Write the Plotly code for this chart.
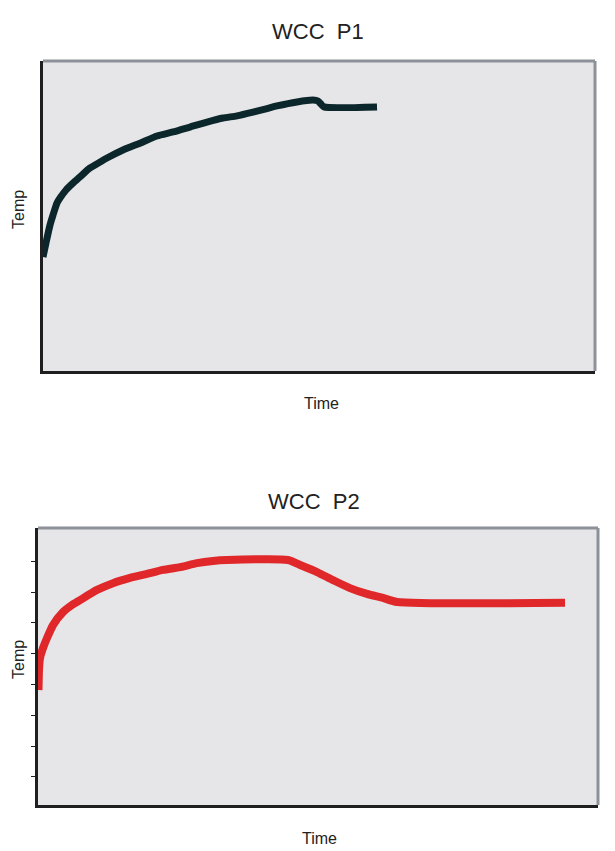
import plotly.graph_objects as go

# ---- data (arbitrary units: time 0-100, temp scale) ----
p1_time = [0, 0.54, 1.27, 1.81, 2.54, 3.08, 4.17, 5.43, 6.70, 8.51, 10.33, 11.59,
           14.49, 17.57, 20.65, 23.55, 26.63, 29.71, 32.61, 35.14, 38.04, 40.22,
           42.39, 46.01, 48.91, 49.82, 50.36, 50.91, 60.51]
p1_temp = [36.8, 41.3, 47.1, 50.3, 54.2, 55.8, 58.4, 60.6, 62.6, 65.5, 67.4, 68.7,
           71.3, 73.5, 75.8, 77.1, 78.7, 80.3, 81.6, 82.3, 83.5, 84.5,
           85.5, 86.8, 87.4, 87.1, 86.1, 85.2, 85.2]

p2_time = [0.09, 0.18, 0.36, 0.89, 1.61, 2.68, 4.46, 6.07, 7.5, 10.54, 13.39, 16.43,
           19.46, 22.32, 25.36, 28.39, 31.25, 33.75, 44.64, 46.79, 49.82, 52.68,
           55.71, 58.75, 61.61, 64.11, 94.11]
p2_temp = [38.2, 44.7, 48.6, 51.8, 55.1, 59.3, 63.5, 65.8, 67.4, 70.7, 72.9, 74.6,
           75.9, 77.2, 78.1, 79.4, 80.1, 80.4, 80.4, 78.8, 76.5, 73.9,
           71.3, 69.4, 68.1, 66.8, 66.5]

titles = ["WCC\u00a0\u00a0P1", "WCC\u00a0\u00a0P2"]
x_label = "Time"
y_label = "Temp"

# page is rendered with an 8px body margin: size the figure to fit and offset
OFF = 8
W, H = 615 - OFF, 851 - OFF

def px_x(p):
    return (p - OFF) / W

def px_y(p):
    return (H - (p - OFF)) / H

fig = go.Figure()
fig.add_trace(go.Scatter(x=p1_time, y=p1_temp, mode="lines",
                         line=dict(color="#0c272b", width=7, shape="spline", smoothing=0.6),
                         xaxis="x", yaxis="y", showlegend=False, hoverinfo="skip"))
fig.add_trace(go.Scatter(x=p2_time, y=p2_temp, mode="lines",
                         line=dict(color="#e0282a", width=8, shape="spline", smoothing=0.6),
                         xaxis="x2", yaxis="y2", showlegend=False, hoverinfo="skip"))

dark = "#1f1f1f"
grey = "#8c9298"

common_x = dict(showgrid=False, zeroline=False, showticklabels=False,
                showline=True, linecolor=dark, linewidth=3, range=[0, 100], fixedrange=True)
fig.update_layout(
    width=W, height=H, autosize=False,
    margin=dict(l=0, r=0, t=0, b=0),
    paper_bgcolor="white", plot_bgcolor="#e6e6e8",
    font=dict(family="Liberation Sans, Arial, sans-serif", color="#222222"),
    xaxis=dict(domain=[px_x(43), px_x(595)], anchor="y", **common_x),
    yaxis=dict(domain=[px_y(371), px_y(61)], anchor="x", range=[0, 100],
               showgrid=False, zeroline=False, showticklabels=False,
               showline=True, linecolor=dark, linewidth=3),
    xaxis2=dict(domain=[px_x(38), px_x(598)], anchor="y2", **common_x),
    yaxis2=dict(domain=[px_y(805), px_y(528)], anchor="x2", range=[0.9, 90.8],
                tickvals=[10, 20, 30, 40, 50, 60, 70, 80],
                ticks="outside", ticklen=4, tickwidth=1, tickcolor=dark,
                showgrid=False, zeroline=False, showticklabels=False,
                showline=True, linecolor=dark, linewidth=3),
)

# grey top and right frame edges
for xr, yr in [("x domain", "y domain"), ("x2 domain", "y2 domain")]:
    fig.add_shape(type="line", xref=xr, yref=yr, x0=0, x1=1, y0=1, y1=1,
                  line=dict(color=grey, width=3))
    fig.add_shape(type="line", xref=xr, yref=yr, x0=1, x1=1, y0=0, y1=1,
                  line=dict(color=grey, width=3))

ann = [
    dict(text=titles[0], x=px_x(318), y=px_y(31), size=22, angle=0),
    dict(text=titles[1], x=px_x(314), y=px_y(501), size=22, angle=0),
    dict(text=x_label, x=px_x(321), y=px_y(403), size=16, angle=0),
    dict(text=x_label, x=px_x(319), y=px_y(838), size=16, angle=0),
    dict(text=y_label, x=px_x(18), y=px_y(210), size=16, angle=-90),
    dict(text=y_label, x=px_x(18), y=px_y(660), size=16, angle=-90),
]
for a in ann:
    fig.add_annotation(text=a["text"], x=a["x"], y=a["y"], xref="paper", yref="paper",
                       showarrow=False, xanchor="center", yanchor="middle",
                       textangle=a["angle"], font=dict(size=a["size"], color="#222222"))

fig.write_html("out.html")
